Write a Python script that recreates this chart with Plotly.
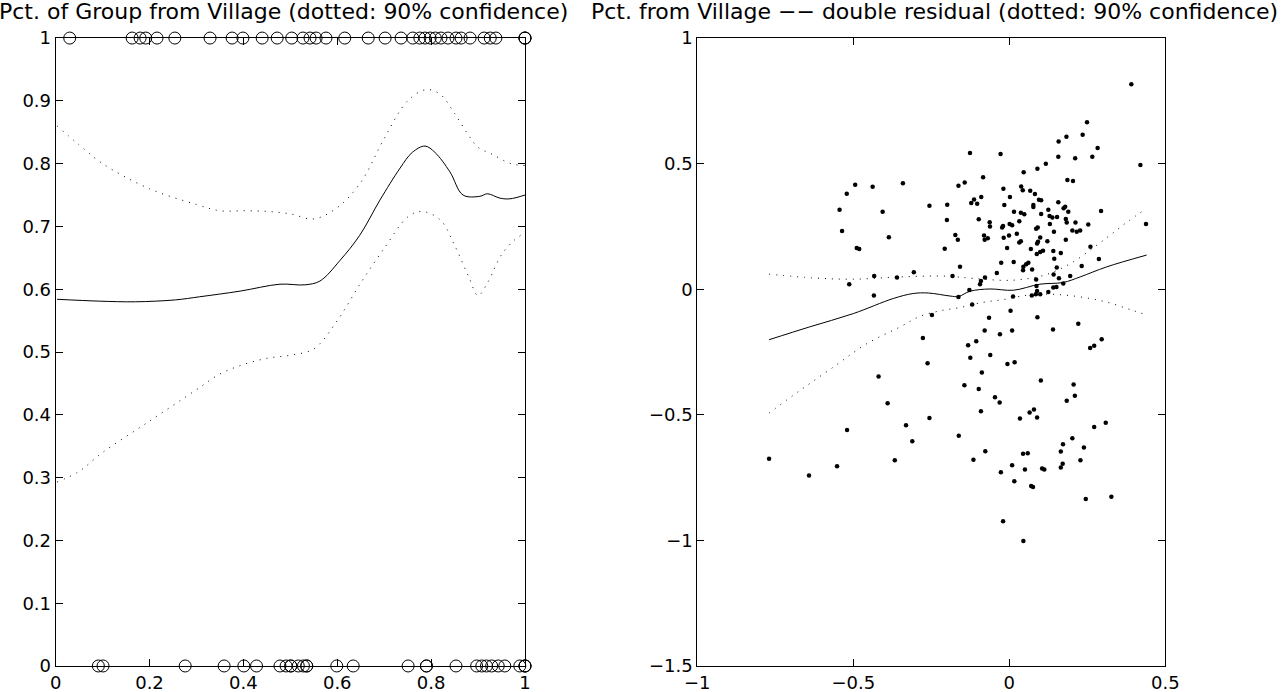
import plotly.graph_objects as go

# ---------------- Left panel data ----------------
fit_x = [0.003, 0.094, 0.17, 0.255, 0.307, 0.393, 0.478, 0.531, 0.563, 0.606, 0.648, 0.691,
         0.734, 0.76, 0.787, 0.808, 0.84, 0.868, 0.904, 0.92, 0.947, 0.968, 1.0]
fit_y = [0.584, 0.581, 0.580, 0.583, 0.588, 0.597, 0.608, 0.607, 0.613, 0.646, 0.686, 0.742,
         0.793, 0.818, 0.828, 0.818, 0.787, 0.750, 0.748, 0.752, 0.745, 0.744, 0.750]

upper_x = [0.003, 0.05, 0.1, 0.2, 0.3, 0.35, 0.4, 0.45, 0.5, 0.55, 0.6, 0.65, 0.7, 0.75,
           0.79, 0.82, 0.85, 0.88, 0.9, 0.93, 0.97, 1.0]
upper_y = [0.86, 0.83, 0.80, 0.76, 0.735, 0.725, 0.725, 0.724, 0.72, 0.712, 0.73, 0.77, 0.84,
           0.90, 0.918, 0.91, 0.88, 0.845, 0.826, 0.815, 0.80, 0.797]

lower_x = [0.003, 0.05, 0.1, 0.2, 0.3, 0.35, 0.4, 0.45, 0.5, 0.55, 0.6, 0.65, 0.7, 0.75,
           0.78, 0.82, 0.85, 0.88, 0.9, 0.92, 0.95, 0.98, 1.0]
lower_y = [0.293, 0.31, 0.34, 0.39, 0.44, 0.465, 0.48, 0.49, 0.495, 0.505, 0.55, 0.61, 0.665,
           0.715, 0.724, 0.71, 0.67, 0.62, 0.59, 0.61, 0.655, 0.68, 0.69]

ones_x = [0.030, 0.163, 0.180, 0.192, 0.216, 0.254, 0.329, 0.376, 0.399, 0.440, 0.472, 0.503,
          0.527, 0.542, 0.555, 0.576, 0.616, 0.666, 0.702, 0.736, 0.761, 0.776, 0.787, 0.798,
          0.809, 0.821, 0.836, 0.853, 0.864, 0.883, 0.913, 0.926, 0.938, 1.0, 1.0, 1.0]
zeros_x = [0.091, 0.101, 0.276, 0.359, 0.401, 0.428, 0.478, 0.491, 0.501, 0.501, 0.517, 0.528,
           0.535, 0.535, 0.599, 0.634, 0.751, 0.790, 0.790, 0.853, 0.897, 0.908, 0.918, 0.929,
           0.943, 0.957, 0.989, 1.0, 1.0, 1.0]

# ---------------- Right panel data ----------------
res_x = [-0.544, -0.521, -0.494, -0.438, -0.341, -0.406, -0.536, -0.386, -0.256, -0.199, -0.200,
         -0.163, -0.173, -0.165, -0.489, -0.481, -0.207, -0.158, -0.433, -0.360, -0.306, -0.182,
         -0.513, -0.434, -0.163,
         0.183, 0.158, -0.126, -0.028, 0.157, 0.211, 0.117, 0.090, 0.046, -0.084, -0.143, 0.186,
         0.204, -0.019, 0.038, 0.043, 0.067, 0.082, -0.090, -0.113, -0.122, -0.103, 0.002, 0.095,
         0.102, 0.157, -0.016, 0.077, 0.077, 0.179, 0.174, 0.125, 0.189, 0.015, 0.037, 0.048,
         0.102, 0.129, 0.138, 0.153, 0.181, -0.098, -0.063, -0.062, 0.032, 0.001, 0.009, 0.130,
         0.184, -0.020, -0.023, 0.091, 0.086, 0.143, 0.202, 0.024, -0.001, -0.081, -0.069, -0.079,
         0.099, -0.018, 0.037, 0.032, 0.092, 0.089, 0.122, 0.181, -0.007, 0.069, 0.141, 0.165,
         0.108, 0.099, 0.088, 0.144, 0.061, 0.054, 0.045, 0.044, 0.073, -0.026, 0.014, 0.152,
         -0.040, 0.142, 0.195, -0.078, -0.091, -0.094, 0.159, 0.086, 0.173, -0.128, 0.087, 0.151,
         0.141, 0.012, 0.089, 0.085, 0.072, 0.099, 0.125,
         0.391, 0.249, 0.235, 0.283, 0.266, 0.420, 0.294, 0.212, 0.253, 0.216, 0.227, 0.260,
         0.287, 0.232, 0.438,
         -0.119, 0.004, -0.065, 0.090, -0.079, 0.009, 0.140, 0.221, -0.030, -0.106, -0.132,
         0.296, 0.272, 0.259, -0.125, -0.061, -0.006, 0.017, -0.088, -0.144, -0.098, 0.101,
         0.206, 0.210, -0.046, -0.031, 0.184, -0.091, 0.065, 0.079, 0.034, 0.089, 0.272, 0.309,
         -0.162, 0.202, 0.172, 0.239, 0.165, -0.077, 0.044, 0.059, -0.115, 0.228, 0.171, 0.165,
         0.009, 0.050, 0.105, 0.112, -0.027, 0.016, 0.070, 0.076, 0.245, 0.327, -0.020, 0.045,
         -0.248, -0.277, -0.262, -0.419, -0.390, -0.256, -0.331, -0.520, -0.311, -0.367, -0.552,
         -0.770, -0.642]
res_y = [0.316, 0.380, 0.416, 0.408, 0.422, 0.308, 0.232, 0.207, 0.332, 0.336, 0.276,
         0.412, 0.216, 0.197, 0.164, 0.160, 0.161, 0.089, 0.053, 0.047, 0.068, 0.053,
         0.020, -0.025, -0.031,
         0.607, 0.588, 0.542, 0.538, 0.527, 0.521, 0.500, 0.480, 0.466, 0.446, 0.425, 0.435,
         0.431, 0.400, 0.409, 0.394, 0.392, 0.379, 0.367, 0.357, 0.343, 0.340, 0.367, 0.356,
         0.354, 0.346, 0.335, 0.335, 0.327, 0.328, 0.322, 0.316, 0.308, 0.308, 0.304, 0.299,
         0.300, 0.292, 0.286, 0.288, 0.280, 0.279, 0.267, 0.250, 0.271, 0.260, 0.255, 0.260,
         0.266, 0.252, 0.246, 0.246, 0.241, 0.229, 0.234, 0.221, 0.214, 0.214, 0.203, 0.197,
         0.206, 0.205, 0.191, 0.186, 0.189, 0.182, 0.191, 0.197, 0.164, 0.160, 0.152, 0.144,
         0.153, 0.148, 0.140, 0.121, 0.105, 0.099, 0.089, 0.076, 0.079, 0.105, 0.108, 0.087,
         0.065, 0.059, 0.053, 0.047, 0.033, 0.020, 0.044, 0.039, 0.023, -0.003, 0.013, 0.009,
         0.007, -0.029, -0.007, -0.020, -0.025, -0.020, -0.011,
         0.816, 0.665, 0.615, 0.562, 0.527, 0.495, 0.311, 0.266, 0.258, 0.229, 0.234, 0.169,
         0.120, 0.092, 0.260,
         -0.061, -0.086, -0.114, -0.112, -0.164, -0.164, -0.160, -0.137, -0.179, -0.207, -0.223,
         -0.199, -0.225, -0.234, -0.273, -0.262, -0.298, -0.291, -0.332, -0.382, -0.397, -0.363,
         -0.379, -0.424, -0.430, -0.451, -0.444, -0.486, -0.491, -0.479, -0.515, -0.511, -0.549,
         -0.532, -0.583, -0.593, -0.617, -0.630, -0.646, -0.645, -0.655, -0.653, -0.679, -0.681,
         -0.695, -0.710, -0.701, -0.718, -0.714, -0.718, -0.729, -0.765, -0.783, -0.787, -0.835,
         -0.826, -0.924, -1.002,
         -0.103, -0.194, -0.295, -0.347, -0.454, -0.513, -0.542, -0.560, -0.605, -0.681, -0.705,
         -0.675, -0.742]

rfit_x = [-0.770, -0.640, -0.500, -0.372, -0.308, -0.260, -0.190, -0.163, -0.126, -0.062,
          0.013, 0.098, 0.173, 0.227, 0.312, 0.440]
rfit_y = [-0.201, -0.150, -0.097, -0.037, -0.017, -0.015, -0.027, -0.029, -0.008, 0.001,
          -0.004, 0.020, 0.027, 0.049, 0.089, 0.136]

rup_x = [-0.770, -0.628, -0.500, -0.350, -0.201, -0.115, 0.013, 0.120, 0.205, 0.280, 0.333,
         0.378, 0.440]
rup_y = [0.060, 0.045, 0.040, 0.049, 0.052, 0.043, 0.036, 0.059, 0.109, 0.175, 0.225,
         0.268, 0.322]

rlo_x = [-0.770, -0.671, -0.564, -0.457, -0.350, -0.286, -0.222, -0.158, -0.088, -0.019,
         0.050, 0.120, 0.184, 0.259, 0.323, 0.387, 0.440]
rlo_y = [-0.493, -0.403, -0.310, -0.217, -0.150, -0.108, -0.086, -0.073, -0.053, -0.041,
         -0.025, -0.020, -0.024, -0.037, -0.055, -0.081, -0.102]

left_title = "Pct. of Group from Village (dotted: 90% confidence)"
right_title = "Pct. from Village −− double residual (dotted: 90% confidence)"

FONT = "DejaVu Sans, Liberation Sans, Arial, sans-serif"
DOT = "1px,6px"

fig = go.Figure()

# left panel
fig.add_trace(go.Scatter(x=fit_x, y=fit_y, mode="lines", line=dict(color="black", width=1),
                         line_shape="spline", xaxis="x", yaxis="y"))
fig.add_trace(go.Scatter(x=upper_x, y=upper_y, mode="lines", line_shape="spline",
                         line=dict(color="black", width=1, dash=DOT), xaxis="x", yaxis="y"))
fig.add_trace(go.Scatter(x=lower_x, y=lower_y, mode="lines", line_shape="spline",
                         line=dict(color="black", width=1, dash=DOT), xaxis="x", yaxis="y"))
fig.add_trace(go.Scatter(x=ones_x, y=[1] * len(ones_x), mode="markers", cliponaxis=False,
                         marker=dict(symbol="circle-open", size=12, color="black",
                                     line=dict(width=1, color="black")),
                         xaxis="x", yaxis="y"))
fig.add_trace(go.Scatter(x=zeros_x, y=[0] * len(zeros_x), mode="markers", cliponaxis=False,
                         marker=dict(symbol="circle-open", size=12, color="black",
                                     line=dict(width=1, color="black")),
                         xaxis="x", yaxis="y"))

# right panel
fig.add_trace(go.Scatter(x=res_x, y=res_y, mode="markers",
                         marker=dict(symbol="circle", size=4.5, color="black"),
                         xaxis="x2", yaxis="y2"))
fig.add_trace(go.Scatter(x=rfit_x, y=rfit_y, mode="lines", line_shape="spline",
                         line=dict(color="black", width=1), xaxis="x2", yaxis="y2"))
fig.add_trace(go.Scatter(x=rup_x, y=rup_y, mode="lines", line_shape="spline",
                         line=dict(color="black", width=1, dash=DOT), xaxis="x2", yaxis="y2"))
fig.add_trace(go.Scatter(x=rlo_x, y=rlo_y, mode="lines", line_shape="spline",
                         line=dict(color="black", width=1, dash=DOT), xaxis="x2", yaxis="y2"))

axis_common = dict(showgrid=False, zeroline=False, showline=True, linecolor="black",
                   linewidth=1, mirror="ticks", ticks="inside", ticklen=7, tickcolor="black",
                   tickwidth=1, automargin=False,
                   tickfont=dict(family=FONT, size=18, color="black"))

fig.update_layout(
    width=1282, height=692, autosize=False,
    margin=dict(l=0, r=0, t=0, b=0, pad=0),
    paper_bgcolor="white", plot_bgcolor="white", showlegend=False,
    font=dict(family=FONT, color="black"),
    xaxis=dict(domain=[0.0434, 0.4095], range=[0, 1], tickvals=[0, 0.2, 0.4, 0.6, 0.8, 1],
               ticktext=["0", "0.2", "0.4", "0.6", "0.8", "1"], anchor="y",
               ticklabelstandoff=0, **axis_common),
    yaxis=dict(domain=[0.0376, 0.945], range=[0, 1],
               tickvals=[0, 0.1, 0.2, 0.3, 0.4, 0.5, 0.6, 0.7, 0.8, 0.9, 1],
               ticktext=["0", "0.1", "0.2", "0.3", "0.4", "0.5", "0.6", "0.7", "0.8", "0.9", "1"],
               anchor="x", ticklabelstandoff=0, **axis_common),
    xaxis2=dict(domain=[0.5439, 0.909], range=[-1, 0.5], tickvals=[-1, -0.5, 0, 0.5],
                ticktext=["−1", "−0.5", "0", "0.5"], anchor="y2",
                ticklabelstandoff=0, **axis_common),
    yaxis2=dict(domain=[0.0376, 0.945], range=[-1.5, 1],
                tickvals=[-1.5, -1, -0.5, 0, 0.5, 1],
                ticktext=["−1.5", "−1", "−0.5", "0", "0.5", "1"], anchor="x2",
                ticklabelstandoff=0, **axis_common),
    annotations=[
        dict(text=left_title, x=0.2215, y=0.984, xref="paper", yref="paper",
             xanchor="center", yanchor="middle", showarrow=False,
             font=dict(family=FONT, size=22, color="black")),
        dict(text=right_title, x=0.7293, y=0.984, xref="paper", yref="paper",
             xanchor="center", yanchor="middle", showarrow=False,
             font=dict(family=FONT, size=22, color="black")),
    ],
)

fig.write_html("out.html", config={"displayModeBar": False},
               post_script="document.body.style.margin='0px';document.body.style.overflow='hidden';")
